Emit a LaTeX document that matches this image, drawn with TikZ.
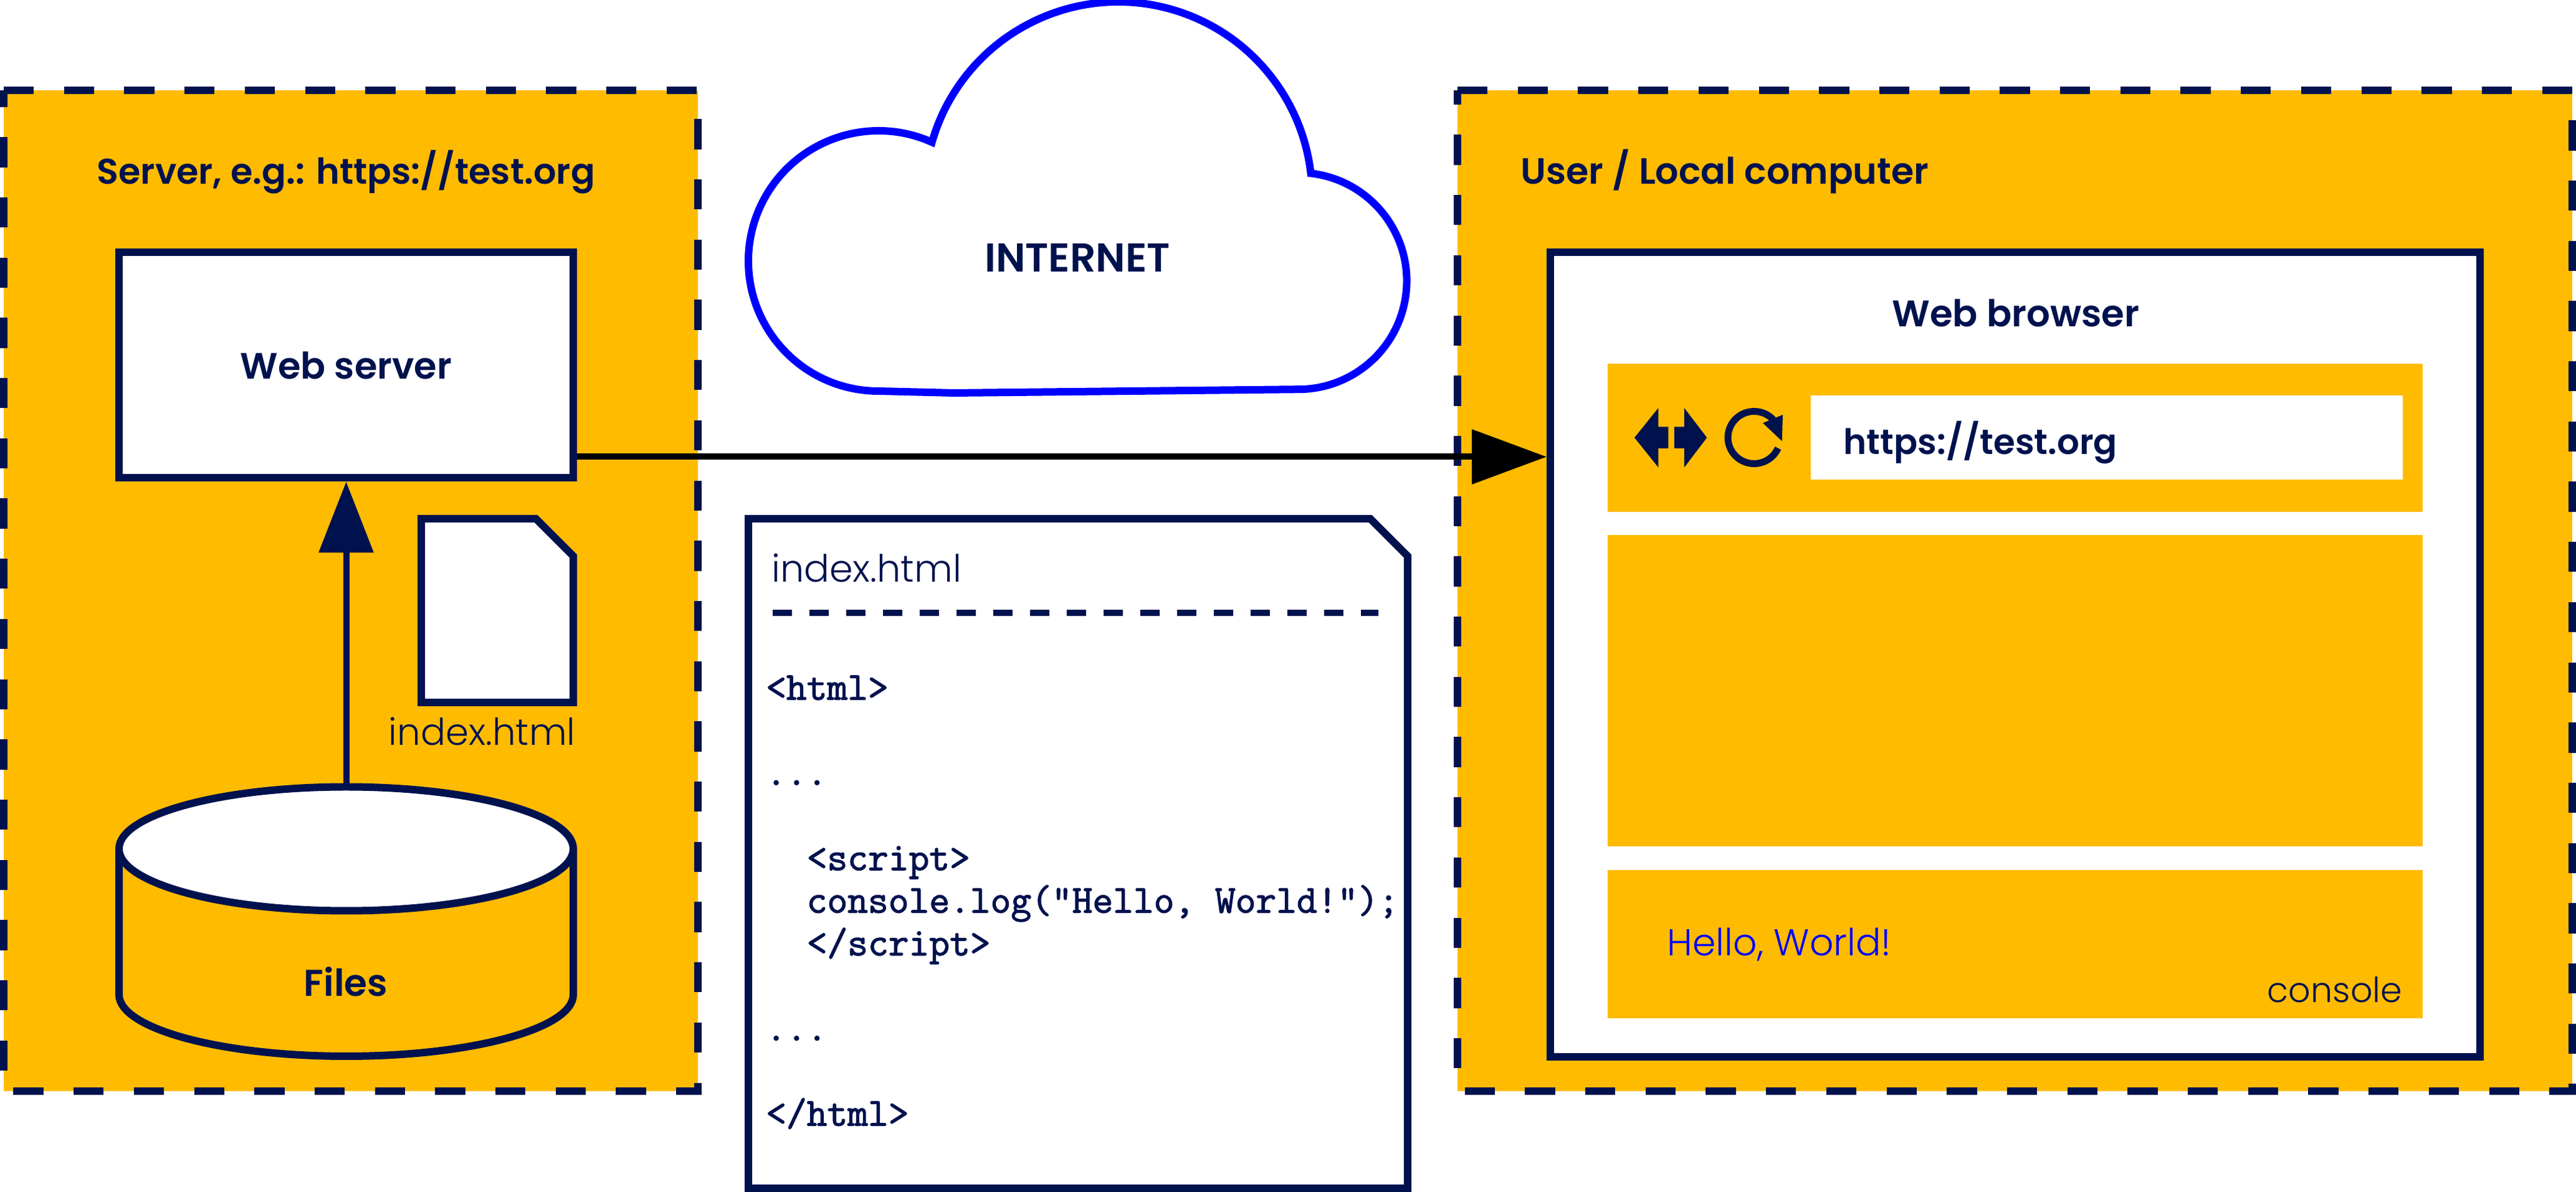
\documentclass[tikz,border=0pt]{standalone}
\usepackage{fontspec}
\setmainfont{Poppins}
\newfontfamily\lighttext{Poppins Light}
\newfontfamily\boldtext{Poppins SemiBold}
\newfontfamily\codetext{Latin Modern Mono}[FakeBold=2]
\usetikzlibrary{arrows.meta,calc}
\definecolor{amber}{HTML}{FFBB00}
\definecolor{navy}{HTML}{00124E}
\newcommand{\docpath}[1]{\draw [docline,fill=white] (#1.north west) -- ([xshift=-.6cm]#1.north east) -- ([yshift=-.6cm]#1.north east) -- (#1.south east) -- (#1.south west) -- cycle;}
\tikzset{
  panel/.style={fill=amber,draw=navy,line width=.12cm,dash pattern=on .483cm off .484cm},
  docline/.style={draw=navy,line width=.12cm,line join=miter},
  whitebox/.style={docline,fill=white,inner sep=0pt},
  holder/.style={inner sep=0pt,outer sep=0pt},
  bar/.style={fill=amber,inner sep=0pt,minimum width=13.085cm},
  title/.style={text=navy,font=\boldtext\fontsize{#1}{19}\selectfont,inner sep=0pt},
  title/.default=16.7,
  thin/.style={text=navy,font=\lighttext\fontsize{#1}{19}\selectfont,inner sep=0pt},
  thin/.default=17.2,
}
\begin{document}
\begin{tikzpicture}
\useasboundingbox (0,0) rectangle (41.34,19.14);
% server side
\draw [panel] (.06,17.69)--(11.2,17.69)--(11.2,1.62)--(.06,1.62)--cycle;
\node [title=16.3,anchor=base west] (servertitle) at (1.55,16.18) {Server, e.g.: https://test.org};
\node [whitebox,title=16.8,minimum width=7.29cm,minimum height=3.62cm] (webserver) at (5.555,13.275) {Web server};
\node [holder,minimum width=2.44cm,minimum height=2.95cm] (smalldoc) at (7.98,9.335) {};
\docpath{smalldoc}
\node [thin=16.9,anchor=base east] (smalldoclabel) at (9.24,7.17) {index.html};
\node [holder,minimum width=7.29cm,minimum height=4.325cm] (files) at (5.555,4.3425) {};
\draw [docline,fill=amber] (9.2,5.51) -- (9.2,3.17) arc[start angle=0,end angle=-180,x radius=3.645cm,y radius=.99cm] -- (1.91,5.51);
\draw [docline,fill=white] (5.555,5.51) ellipse [x radius=3.645cm,y radius=.995cm];
\node [title=17,anchor=base] (fileslabel) at (5.55,3.14) {Files};
\draw [navy,line width=.1cm,-{Triangle[length=1.14cm,width=.86cm]}] (files.north) -- (webserver.south);
% cloud
\draw [blue,line width=.12cm,line join=miter] (14.1,12.86) arc[start angle=270,end angle=65.8,radius=2.09cm] arc[start angle=164,end angle=6.6,radius=3.11cm] arc[start angle=83.4,end angle=-90,radius=1.74cm] -- (15.31,12.83) -- cycle;
\node [title=18.4,anchor=base] (internet) at (17.29,14.77) {INTERNET};
% page source
\node [holder,minimum width=10.58cm,minimum height=10.75cm] (bigdoc) at (17.3,5.435) {};
\docpath{bigdoc}
\node [thin,anchor=base west] (bigdoclabel) at (12.375,9.79) {index.html};
\coordinate (rulea) at (12.395,9.3);
\coordinate (ruleb) at (22.12,9.3);
\draw [navy,line width=.1cm,dash pattern=on .31cm off .28cm] (rulea) -- (ruleb);
\node [text=navy,anchor=north west,align=left,inner sep=0pt,font=\codetext\fontsize{18.1}{19.46}\selectfont] (code) at (12.285,8.30) {<html>\\ \\...\\ \\ \ \ <script>\\ \ \ console.log("Hello, World!");\\ \ \ </script>\\ \\...\\ \\</html>};
% user side
\draw [panel] (23.39,17.69)--(41.28,17.69)--(41.28,1.62)--(23.39,1.62)--cycle;
\node [title,anchor=base west] (usertitle) at (24.40,16.18) {User / Local computer};
\node [whitebox,minimum width=14.92cm,minimum height=12.915cm] (browser) at (32.34,8.6275) {};
\node [title=16.9,anchor=base] (browsertitle) at (32.35,13.89) {Web browser};
\node [bar,minimum height=2.383cm] (toolbar) at (32.3375,12.1115) {};
\node [bar,minimum height=5cm] (viewport) at (32.3375,8.047) {};
\node [bar,minimum height=2.378cm] (consolebar) at (32.3375,3.981) {};
\node [fill=white,inner sep=0pt,minimum width=9.5cm,minimum height=1.35cm] (urlfield) at (33.81,12.115) {};
\node [title=16,anchor=base west] (urltext) at (29.58,11.84) {https://test.org};
\node [thin=17.1,text=blue,anchor=base west] (hello) at (26.75,3.79) {Hello, World!};
\node [thin=15.8,anchor=base east] (consolelabel) at (38.556,3.04) {console};
% toolbar icons
\fill [navy] (26.23,12.113)--(26.614,12.59)--(26.614,12.287)--(26.773,12.287)--(26.773,11.94)--(26.614,11.94)--(26.614,11.633)--cycle;
\fill [navy] (27.392,12.113)--(27.028,12.59)--(27.028,12.287)--(26.869,12.287)--(26.869,11.94)--(27.028,11.94)--(27.028,11.633)--cycle;
\draw [navy,line width=.11cm] (28.457,12.401) arc[start angle=43,end angle=336,radius=.42cm];
\fill [navy] (28.61,12.48)--(28.29,12.347)--(28.597,12.057)--cycle;
% request
\coordinate (sendpt) at ([yshift=.4cm]webserver.south east);
\draw [black,line width=.1cm,-{Triangle[length=1.2cm,width=.86cm]}] (sendpt) -- (sendpt -| browser.west);
\end{tikzpicture}
\end{document}
